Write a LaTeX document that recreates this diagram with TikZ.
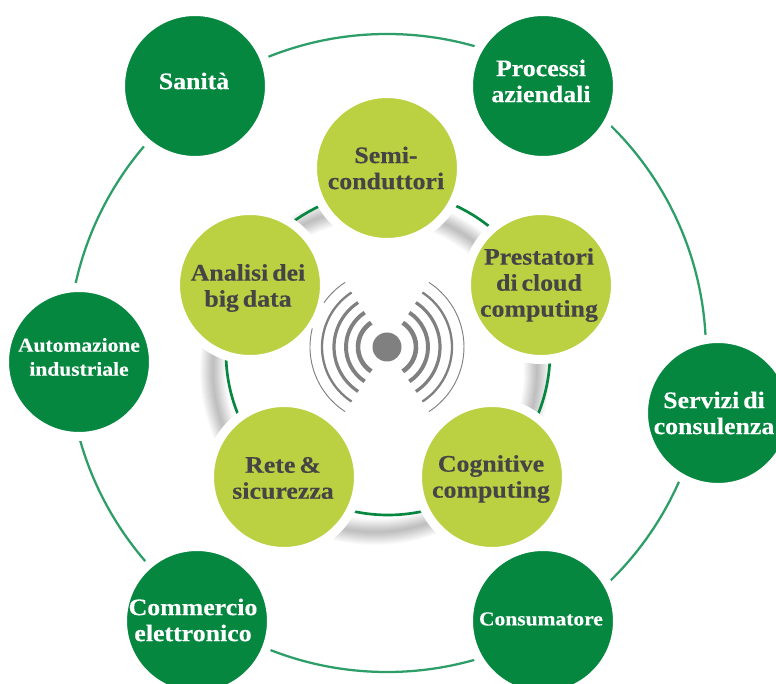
\documentclass[tikz,border=0pt]{standalone}
\usepackage{fontspec}
\setmainfont{Liberation Serif}[BoldFeatures={FakeStretch=1.09,FakeBold=0.25,WordSpace=0.6}]
\definecolor{dgreen}{HTML}{05873F}
\definecolor{ringgreen}{HTML}{2E9E68}
\definecolor{lime}{HTML}{BBD142}
\definecolor{txtgrey}{HTML}{454545}
\definecolor{wifi}{HTML}{808080}
\tikzset{
 px/.style={x=0.75pt,y=-0.75pt},
 circ/.style={circle,draw=white,line width=6.75pt,minimum size=111.75pt,inner sep=0pt},
 outerc/.style={circ,fill=dgreen},
 innerc/.style={circ,fill=lime},
 wtxt/.style={align=center,text=white,font=\bfseries\fontsize{17.8}{19.5}\selectfont,inner sep=0pt},
 wsmall/.style={wtxt,font=\bfseries\fontsize{14.8}{18}\selectfont},
 gtxt/.style={align=center,text=txtgrey,font=\bfseries\fontsize{17.8}{19.5}\selectfont,inner sep=0pt},
 shadowarc/.style={draw=black,opacity=0.02},
 wave/.style={draw=wifi},
}
\begin{document}
\begin{tikzpicture}[px]
\useasboundingbox (0,0) rectangle (776,684);
\clip (0,0) rectangle (776,684);
\fill[white] (0,0) rectangle (776,684);
\coordinate (ringc) at (387,353);
\coordinate (innc) at (388,353);
\coordinate (shadc) at (375,370);
\coordinate (wc) at (387,347);
% soft shadow of the inner ring
\foreach \w in {2,4,...,26}{
  \draw[shadowarc,line width=\w*0.75pt] (shadc) circle[radius=162];
}
% rings
\draw[ringgreen,line width=1.7pt] (ringc) circle[radius=319];
\draw[dgreen,line width=2pt] (innc) circle[radius=162];
% outer circles
\node[outerc] (san) at (195,86) {};
\node[outerc] (pro) at (543,86) {};
\node[outerc] (ser) at (718,413) {};
\node[outerc] (con) at (543,621) {};
\node[outerc] (com) at (197,621) {};
\node[outerc] (aut) at (79,362) {};
% inner circles
\node[innerc] (sem) at (387,168) {};
\node[innerc] (pre) at (541,285) {};
\node[innerc] (cog) at (492,477) {};
\node[innerc] (ret) at (284,477) {};
\node[innerc] (ana) at (250,285) {};
% texts
\node[wtxt] (tsan) at (194,81) {Sanità};
\node[wtxt] (tpro) at (541,81) {Processi\\aziendali};
\node[wtxt] (tser) at (714,413) {Servizi di\\consulenza};
\node[wsmall] (tcon) at (541,619) {Consumatore};
\node[wtxt] (tcom) at (193,620) {Commercio\\elettronico};
\node[wsmall] (taut) at (79,357) {Automazione\\industriale};
\node[gtxt] (tsem) at (386,168) {Semi-\\conduttori};
\node[gtxt] (tpre) at (539,285) {Prestatori\\di cloud\\computing};
\node[gtxt] (tcog) at (491,479) {Cognitive\\computing};
\node[gtxt] (tret) at (283,478) {Rete \&\\sicurezza};
\node[gtxt] (tana) at (248,288) {Analisi dei\\big data};
% wireless symbol
\fill[wifi] (wc) circle[radius=14.5];
\foreach \r/\w in {29/4.6,41/3.9,53/3.2,65/2.3}{
  \draw[wave,line width=\w*0.75pt] (wc) ++(-57:\r) arc[start angle=-57,end angle=57,radius=\r];
  \draw[wave,line width=\w*0.75pt] (wc) ++(123:\r) arc[start angle=123,end angle=237,radius=\r];
}
\draw[wave,line width=0.7pt] (wc) ++(-57:77) arc[start angle=-57,end angle=57,radius=77];
\draw[wave,line width=0.7pt] (wc) ++(123:77) arc[start angle=123,end angle=194,radius=77];
\draw[wave,line width=0.7pt] (wc) ++(215:77) arc[start angle=215,end angle=237,radius=77];
\end{tikzpicture}
\end{document}
